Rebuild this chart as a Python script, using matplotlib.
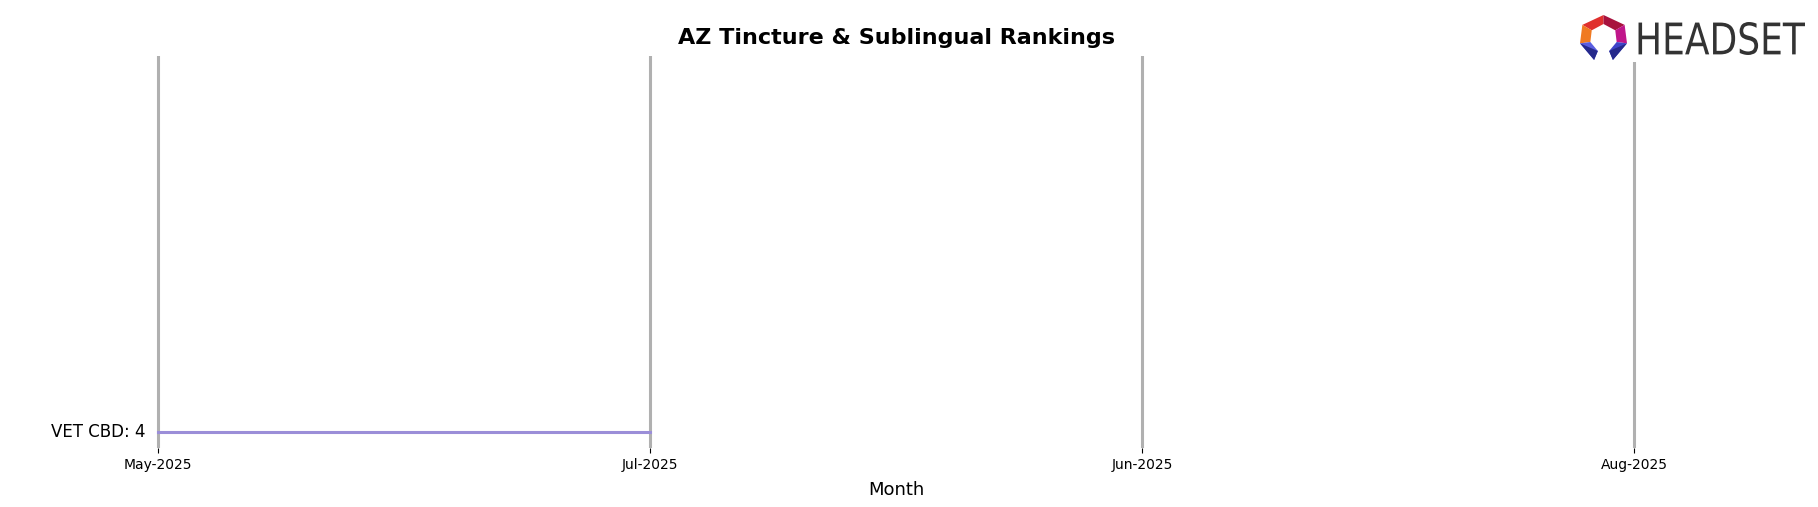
import numpy as np
import matplotlib
matplotlib.use("Agg")
import matplotlib.pyplot as plt
from matplotlib.patches import Polygon, PathPatch
from matplotlib.textpath import TextPath
from matplotlib.font_manager import FontProperties
from matplotlib.transforms import Affine2D

# data
months = ["May-2025", "Jul-2025", "Jun-2025", "Aug-2025"]
brand = "VET CBD"
ranks = [4, 4, np.nan, np.nan]

W, H = 1818, 507
fig = plt.figure(figsize=(W / 100, H / 100), dpi=100)
ax = fig.add_axes([0.0057, 0.1164, 0.9743, 0.773])

x = np.arange(len(months))
for xi in x:
    ax.axvline(xi, color="#b0b0b0", linewidth=2.2, zorder=1)

ax.plot(x, ranks, color="#9b8ed8", linewidth=2.2, zorder=2)

# label on the left for the first value
ax.text(x[0] - 0.025, ranks[0], f"{brand}: {ranks[0]}", ha="right", va="center", fontsize=12)

ax.set_xlim(-0.3, 3.3)
ax.set_ylim(4.2, -0.7)
ax.set_xticks(x)
ax.set_xticklabels(months, fontsize=10)
ax.set_yticks([])
ax.tick_params(axis="x", length=3.5, width=0.8, pad=4)
for s in ax.spines.values():
    s.set_visible(False)
ax.set_xlabel("Month", fontsize=13, labelpad=6)
ax.set_title("AZ Tincture & Sublingual Rankings", fontsize=16, fontweight="bold", pad=9)

# headset logo, drawn in pixel coords on an overlay axes
lax = fig.add_axes([0, 0, 1, 1], zorder=5)
lax.set_xlim(0, W)
lax.set_ylim(0, H)
lax.axis("off")
lax.patch.set_alpha(0)

# white box behind the logo (hides top of the last vertical line)
lax.add_patch(Polygon([(1575, H - 10), (1812, H - 10), (1812, H - 62), (1575, H - 62)],
                      closed=True, color="white", linewidth=0))

def px(u, v):
    # icon local coords (0..1) -> figure pixels
    return (1580 + u * 47, H - (60 - v * 45))

pieces = [
    ([(0.05, 0.78), (0.5, 1.0), (0.5, 0.8), (0.25, 0.66)], "#e0302e"),
    ([(0.5, 1.0), (0.95, 0.78), (0.75, 0.66), (0.5, 0.8)], "#a8123e"),
    ([(0.05, 0.78), (0.25, 0.66), (0.22, 0.4), (0.0, 0.37)], "#f07a22"),
    ([(0.95, 0.78), (0.75, 0.66), (0.78, 0.4), (1.0, 0.37)], "#c0168a"),
    ([(0.0, 0.37), (0.22, 0.4), (0.38, 0.2), (0.3, 0.0)], "#5a5ee0"),
    ([(1.0, 0.37), (0.78, 0.4), (0.62, 0.2), (0.7, 0.0)], "#3e44c8"),
    ([(0.0, 0.37), (0.3, 0.0), (0.38, 0.2)], "#262a8c"),
    ([(1.0, 0.37), (0.7, 0.0), (0.62, 0.2)], "#262a8c"),
]
for pts, c in pieces:
    lax.add_patch(Polygon([px(u, v) for u, v in pts], closed=True, color=c, linewidth=0))

tp = TextPath((0, 0), "HEADSET", size=1, prop=FontProperties(family="DejaVu Sans"))
vx = tp.vertices
x0, x1 = vx[:, 0].min(), vx[:, 0].max()
y0, y1 = vx[:, 1].min(), vx[:, 1].max()
tr = Affine2D().translate(-x0, -y0).scale(170 / (x1 - x0), 33 / (y1 - y0)).translate(1635, H - 55)
lax.add_patch(PathPatch(tr.transform_path(tp), color="#333333", linewidth=0))

fig.savefig("out.png", dpi=100)
